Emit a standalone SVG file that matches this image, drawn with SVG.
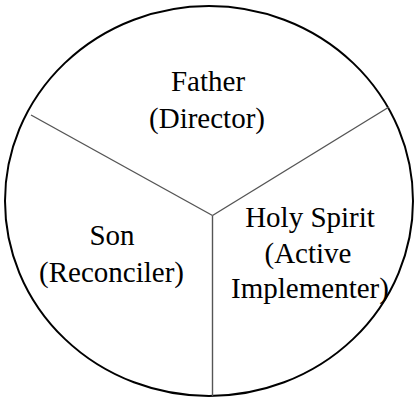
<svg xmlns="http://www.w3.org/2000/svg" width="415" height="400" viewBox="0 0 415 400">
<style>
.lbl{font-size:29px;fill:#000;text-anchor:middle}
.div{stroke:#555;stroke-width:1.4;fill:none}
</style>
<rect width="415" height="400" fill="#fff"/>
<ellipse cx="209" cy="201" rx="204" ry="195" fill="none" stroke="#000" stroke-width="2"/>
<g id="connectors">
<line class="div" x1="31" y1="115" x2="212.5" y2="215.5"/>
<line class="div" x1="389" y1="107" x2="212.5" y2="215.5"/>
<line class="div" x1="212.5" y1="215.5" x2="212.5" y2="396"/>
</g>
<g font-family="'Liberation Serif', 'Times New Roman', Times, 'DejaVu Serif', serif">
<g id="father">
<text class="lbl" x="208" y="91">Father</text>
<text class="lbl" x="207" y="128">(Director)</text>
</g>
<g id="son">
<text class="lbl" x="112" y="245">Son</text>
<text class="lbl" x="111.5" y="282">(Reconciler)</text>
</g>
<g id="spirit">
<text class="lbl" x="310" y="227">Holy Spirit</text>
<text class="lbl" x="308" y="263">(Active</text>
<text class="lbl" x="310" y="298">Implementer)</text>
</g>
</g>
</svg>
